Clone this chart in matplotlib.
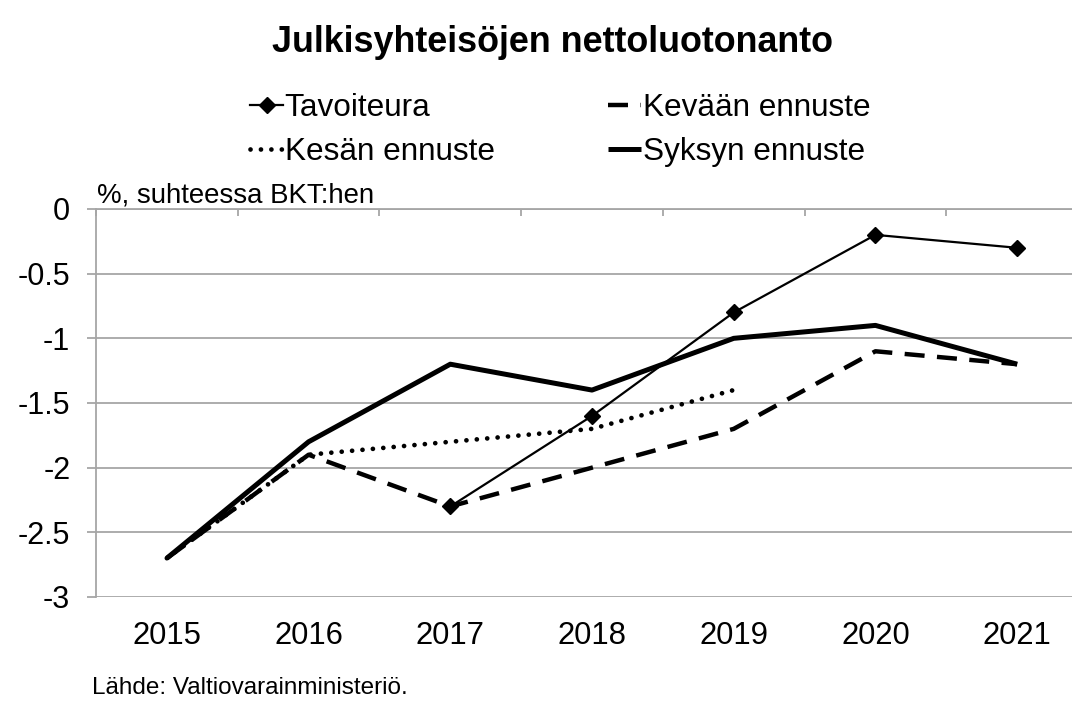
import matplotlib
matplotlib.use("Agg")
import matplotlib.pyplot as plt
from matplotlib.ticker import FixedLocator

plt.rcParams['font.family'] = ['Liberation Sans', 'DejaVu Sans']

years = ['2015', '2016', '2017', '2018', '2019', '2020', '2021']
x = list(range(len(years)))

# values (% of GDP)
tavoite = [None, None, -2.3, -1.6, -0.8, -0.2, -0.3]
kevat = [-2.7, -1.9, -2.3, -2.0, -1.7, -1.1, -1.2]
kesa = [-2.7, -1.9, -1.8, -1.7, -1.4]
syksy = [-2.7, -1.8, -1.2, -1.4, -1.0, -0.9, -1.2]
yticks = [0, -0.5, -1, -1.5, -2, -2.5, -3]
ytick_labels = ['0', '-0.5', '-1', '-1.5', '-2', '-2.5', '-3']

fig = plt.figure(figsize=(10.72, 7.02), dpi=100)
ax = fig.add_axes([96/1072, 1 - 597/702, (1088 - 96)/1072, (597 - 209)/702])

grey = '#a6a6a6'

tx = [i for i, v in zip(x, tavoite) if v is not None]
tv = [v for v in tavoite if v is not None]
l1, = ax.plot(tx, tv, color='black', lw=1.6, marker='D', markersize=8.5, label='Tavoiteura', zorder=5)
l2, = ax.plot(x, kevat, color='black', lw=3.2, dashes=(4.5, 2.8), dash_capstyle='butt', label='Kevään ennuste', zorder=3)
l3, = ax.plot(x[:len(kesa)], kesa, color='black', lw=3.4, dashes=(0.01, 2.2), dash_capstyle='round', label='Kesän ennuste', zorder=3)
l4, = ax.plot(x, syksy, color='black', lw=3.6, label='Syksyn ennuste', solid_capstyle='butt', zorder=4)

ax.set_xlim(-0.5, 6.5)
ax.set_ylim(-3, 0)
ax.set_yticks(yticks)
ax.set_yticklabels(ytick_labels)
ax.set_xticks(x)
ax.set_xticklabels(years)
ax.xaxis.set_minor_locator(FixedLocator([i - 0.5 for i in range(len(years) + 1)]))

ax.grid(axis='y', color=grey, lw=1.3, zorder=0)
for s in ['right', 'bottom']:
    ax.spines[s].set_visible(False)
ax.spines['left'].set_color(grey)
ax.spines['left'].set_linewidth(1.3)
ax.spines['top'].set_color(grey)
ax.spines['top'].set_linewidth(1.3)

ax.tick_params(axis='y', labelsize=22, length=6.5, width=1.3, color=grey, pad=12)
ax.tick_params(axis='x', which='major', labelsize=22.3, length=0, pad=17)
ax.tick_params(axis='x', which='minor', bottom=False, top=True, direction='in', length=5, width=1.3, color=grey)

fig.text(0.515, 1 - 42/702, 'Julkisyhteisöjen nettoluotonanto', ha='center', va='center',
         fontsize=25.8, fontweight='bold')
fig.text(97/1072, 1 - 203/702, '%, suhteessa BKT:hen', ha='left', va='baseline', fontsize=19.9)
fig.text(92/1072, 1 - 688/702, 'Lähde: Valtiovarainministeriö.', ha='left', va='center', fontsize=17.5)

fig.legend(handles=[l1, l3, l2, l4], loc='upper left', bbox_to_anchor=(250/1072, 1 - 93/702),
           ncol=2, frameon=False, fontsize=22.7, handlelength=1.05, handletextpad=0.05,
           columnspacing=3.6, labelspacing=0.45, borderaxespad=0, borderpad=0)

fig.savefig('out.png', dpi=100)
